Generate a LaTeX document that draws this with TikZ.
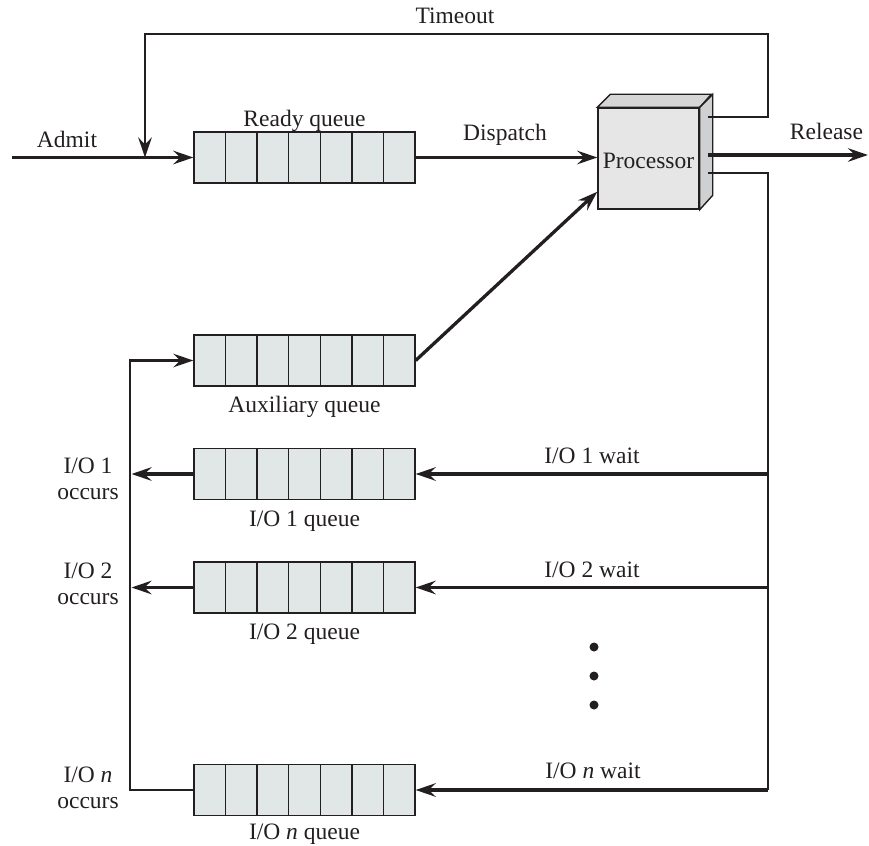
\documentclass[tikz,border=0pt]{standalone}
\usepackage{fontspec}
\setmainfont{Liberation Serif}
\usetikzlibrary{arrows.meta,calc}
\definecolor{ink}{HTML}{231F20}
\definecolor{qfill}{HTML}{E1E6E6}
\definecolor{pfront}{HTML}{E6E6E6}
\definecolor{ptop}{HTML}{D6D6D6}
\definecolor{pside}{HTML}{CFD0D2}
\tikzset{
  queuebox/.style={draw=ink, fill=qfill, line width=1.3pt, minimum width=221pt, minimum height=51pt, inner sep=0pt,
    path picture={\foreach \i in {1,...,6}{\draw[ink, line width=1.3pt] ([xshift=\i*31.571pt]path picture bounding box.south west) -- ([xshift=\i*31.571pt]path picture bounding box.north west);}}},
  tip/.style={-{Stealth[length=20pt,width=13.5pt,inset=7pt]}},
  flow/.style={draw=ink, line width=3.7pt, tip},
  loopline/.style={draw=ink, line width=2.9pt, line join=miter},
  lbl/.style={font=\fontsize{23.5}{26.5}\selectfont, text=ink, inner sep=0pt},
  dot/.style={circle, fill=ink, minimum size=9pt, inner sep=0pt},
}
\begin{document}
\begin{tikzpicture}[x=1pt, y=-1pt]
\useasboundingbox (0,0) rectangle (869,845);

% queues
\node[queuebox] (ready) at (304.5,157.5) {};
\node[queuebox] (aux) at (304.5,360.5) {};
\node[queuebox] (io1) at (304.5,474) {};
\node[queuebox] (io2) at (304.5,587.5) {};
\node[queuebox] (ion) at (304.5,790) {};

% processor
\node[draw=ink, fill=pfront, line width=1.4pt, minimum width=101pt, minimum height=101pt, inner sep=0pt] (proc) at (648.5,158.5) {};
\draw[ink, line width=1.4pt, fill=ptop, line join=miter] (proc.north west) -- ++(13,-13) -- ++(101,0) -- (proc.north east) -- cycle;
\draw[ink, line width=1.4pt, fill=pside, line join=miter] (proc.north east) -- ++(13,-13) -- ++(0,101) -- (proc.south east) -- cycle;
\node[lbl, anchor=base] (procl) at (648.5,168) {Processor};

% coordinates
\coordinate (tstub) at ($(proc.east)+(8,-41.5)$);
\coordinate (rstub) at ($(proc.east)+(8,-3.5)$);
\coordinate (lstub) at ($(proc.east)+(8,14.5)$);
\coordinate (tr) at (768,34);
\coordinate (join) at (145,157.5);
\coordinate (admit) at (12,157.5);
\coordinate (relend) at (868,155);
\coordinate (rbot) at (768,790);
\coordinate (lx) at (130,0);
\coordinate (auxin) at ($(proc.south west)+(0,-18)$);

% connectors
\draw[loopline, tip] (tstub) -| (tr) -| (join);
\draw[flow] (admit) -- (ready.west);
\draw[flow] (ready.east) -- (ready.east -| proc.west);
\draw[flow] (rstub) -- (relend);
\draw[flow, line width=3.3pt] (aux.east) -- (auxin);
\draw[loopline] (lstub) -| (rbot);
\draw[flow] (io1.east -| rbot) -- (io1.east);
\draw[flow] (io2.east -| rbot) -- (io2.east);
\draw[flow] (rbot) -- (ion.east);
\draw[loopline, tip] (ion.west) -- (ion.west -| lx) -- (aux.west -| lx) -- (aux.west);
\draw[flow] (io1.west) -- ($(io1.west -| lx)+(1.5,0)$);
\draw[flow] (io2.west) -- ($(io2.west -| lx)+(1.5,0)$);

% dots
\node[dot] (d1) at (594,647) {};
\node[dot] (d2) at (594,676) {};
\node[dot] (d3) at (594,705) {};

% labels
\node[lbl, anchor=base] (timeoutl) at (455,24) {Timeout};
\node[lbl, anchor=base] (admitl) at (67,148) {Admit};
\node[lbl, anchor=base] (readyl) at (304.5,127) {Ready queue};
\node[lbl, anchor=base] (displ) at (505,140.5) {Dispatch};
\node[lbl, anchor=base] (rell) at (826.5,140) {Release};
\node[lbl, anchor=base] (auxl) at (304.5,412) {Auxiliary queue};
\node[lbl, anchor=base] (io1l) at (304.5,526) {I/O 1 queue};
\node[lbl, anchor=base] (io2l) at (304.5,639) {I/O 2 queue};
\node[lbl, anchor=base] (ionl) at (304.5,839) {I/O \textit{n} queue};
\node[lbl, anchor=base] (w1l) at (592,463) {I/O 1 wait};
\node[lbl, anchor=base] (w2l) at (592,577) {I/O 2 wait};
\node[lbl, anchor=base] (wnl) at (593,778) {I/O \textit{n} wait};
\node[lbl, align=center] (o1l) at (88,479) {I/O 1\\occurs};
\node[lbl, align=center] (o2l) at (88,584) {I/O 2\\occurs};
\node[lbl, align=center] (onl) at (88,788) {I/O \textit{n}\\occurs};
\end{tikzpicture}
\end{document}
